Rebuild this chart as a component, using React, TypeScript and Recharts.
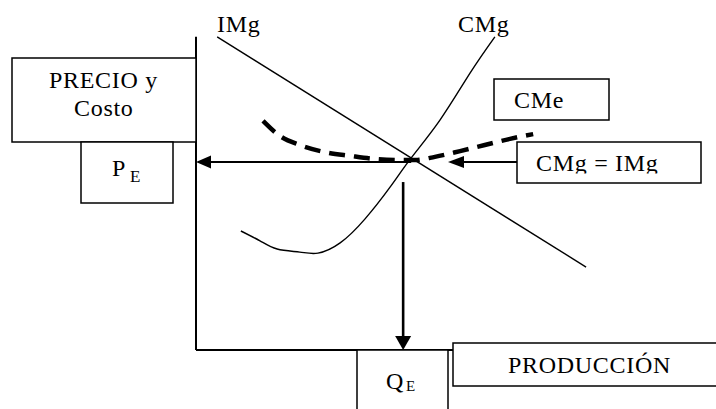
import { ComposedChart, Line, ReferenceLine, XAxis, YAxis } from 'recharts'

type Pt = { q: number; p: number }

// quantity (q) and price/cost (p), both on a 0-100 scale
const imgLine: Pt[] = [
  { q: 4.2, p: 92.1 },
  { q: 77.4, p: 24.4 },
]

const cmgCurve: Pt[] = [
  { q: 8.9, p: 35.0 },
  { q: 12.7, p: 32.1 },
  { q: 16.1, p: 29.7 },
  { q: 20.6, p: 28.8 },
  { q: 24.2, p: 28.5 },
  { q: 28.6, p: 31.5 },
  { q: 33.5, p: 38.5 },
  { q: 38.5, p: 47.9 },
  { q: 42.7, p: 56.5 },
  { q: 48.4, p: 67.6 },
  { q: 54.4, p: 81.5 },
  { q: 59.3, p: 92.1 },
]

const cmeCurve: Pt[] = [
  { q: 13.3, p: 67.4 },
  { q: 16.7, p: 62.9 },
  { q: 20.6, p: 60.3 },
  { q: 25.6, p: 58.2 },
  { q: 30.6, p: 57.1 },
  { q: 35.5, p: 56.2 },
  { q: 40.5, p: 55.9 },
  { q: 43.5, p: 55.9 },
  { q: 47.4, p: 56.8 },
  { q: 52.4, p: 58.5 },
  { q: 57.3, p: 60.3 },
  { q: 62.3, p: 62.1 },
  { q: 66.9, p: 63.5 },
]

const pE = 55.3
const qE = 41.1
const qCross = 42.7
const pVertStart = 49.4
const labelArrowQ = [63.7, 50.0]
const yAxisTop = 92.1
const xAxisEnd = 51

const FONT = '"Liberation Serif", "Times New Roman", serif'

function arrow(head: number, half: number, width: number) {
  return (props: any) => {
    const { x1, y1, x2, y2 } = props
    const dx = x2 - x1
    const dy = y2 - y1
    const len = Math.hypot(dx, dy) || 1
    const ux = dx / len
    const uy = dy / len
    const bx = x2 - ux * head
    const by = y2 - uy * head
    const pts = `${x2},${y2} ${bx - uy * half},${by + ux * half} ${bx + uy * half},${by - ux * half}`
    return (
      <g>
        <line x1={x1} y1={y1} x2={bx} y2={by} stroke="#000" strokeWidth={width} />
        <polygon points={pts} fill="#000" />
      </g>
    )
  }
}

function plain(width: number) {
  return (props: any) => (
    <line x1={props.x1} y1={props.y1} x2={props.x2} y2={props.y2} stroke="#000" strokeWidth={width} />
  )
}

const txt = { fontFamily: FONT, fontSize: 24, fill: '#000', letterSpacing: 0.7 } as const
const box = { fill: '#fff', stroke: '#000', strokeWidth: 1.5 } as const

function Annotations() {
  return (
    <svg
      width={716}
      height={409}
      style={{ position: 'absolute', left: 0, top: 0, pointerEvents: 'none' }}
    >
      <defs>
        <clipPath id="eqclip">
          <rect x={517} y={142} width={184} height={31.5} />
        </clipPath>
      </defs>
      <text x={217} y={32} style={txt}>IMg</text>
      <text x={458} y={32} style={txt}>CMg</text>

      <rect x={12} y={58} width={184} height={84} style={box} />
      <text x={49} y={88} style={txt}>PRECIO y</text>
      <text x={74} y={116} style={txt}>Costo</text>

      <rect x={81} y={142} width={92} height={61} style={box} />
      <text x={112} y={176} style={txt}>P</text>
      <text x={130} y={182} style={{ ...txt, fontSize: 17 }}>E</text>

      <rect x={494} y={79} width={115} height={41} style={box} />
      <text x={514} y={108} style={txt}>CMe</text>

      <rect x={517} y={142} width={184} height={41} style={box} />
      <text x={536} y={171} style={txt} clipPath="url(#eqclip)">CMg = IMg</text>

      <rect x={357} y={350} width={91} height={70} style={box} />
      <text x={386} y={389} style={txt}>Q</text>
      <text x={406} y={391} style={{ ...txt, fontSize: 15 }}>E</text>

      <rect x={453} y={343} width={270} height={43} style={box} />
      <text x={508} y={373} style={txt}>PRODUCCIÓN</text>
    </svg>
  )
}

export default function App() {
  return (
    <div style={{ position: 'absolute', left: 0, top: 0, width: 716, height: 409, background: '#fff' }}>
      <ComposedChart
        width={716}
        height={409}
        margin={{ top: 10, right: 16, bottom: 59, left: 196 }}
      >
        <XAxis dataKey="q" type="number" domain={[0, 100]} allowDataOverflow hide />
        <YAxis dataKey="p" type="number" domain={[0, 100]} allowDataOverflow hide />

        <ReferenceLine segment={[{ x: 0, y: 0 }, { x: 0, y: yAxisTop }]} shape={plain(2)} />
        <ReferenceLine segment={[{ x: 0, y: 0 }, { x: xAxisEnd, y: 0 }]} shape={plain(2)} />

        <Line
          data={imgLine}
          dataKey="p"
          type="linear"
          stroke="#000"
          strokeWidth={1.4}
          dot={false}
          activeDot={false}
          isAnimationActive={false}
        />
        <Line
          data={cmgCurve}
          dataKey="p"
          type="natural"
          stroke="#000"
          strokeWidth={1.4}
          dot={false}
          activeDot={false}
          isAnimationActive={false}
        />
        <Line
          data={cmeCurve}
          dataKey="p"
          type="monotone"
          stroke="#000"
          strokeWidth={4.5}
          strokeDasharray="16 9"
          dot={false}
          activeDot={false}
          isAnimationActive={false}
        />

        <ReferenceLine segment={[{ x: qCross, y: pE }, { x: 0, y: pE }]} shape={arrow(15, 6.5, 2)} />
        <ReferenceLine
          segment={[{ x: labelArrowQ[0], y: pE }, { x: labelArrowQ[1], y: pE }]}
          shape={arrow(16, 6, 2)}
        />
        <ReferenceLine segment={[{ x: qE, y: pVertStart }, { x: qE, y: 0 }]} shape={arrow(14, 8, 2.6)} />
      </ComposedChart>
      <Annotations />
    </div>
  )
}
